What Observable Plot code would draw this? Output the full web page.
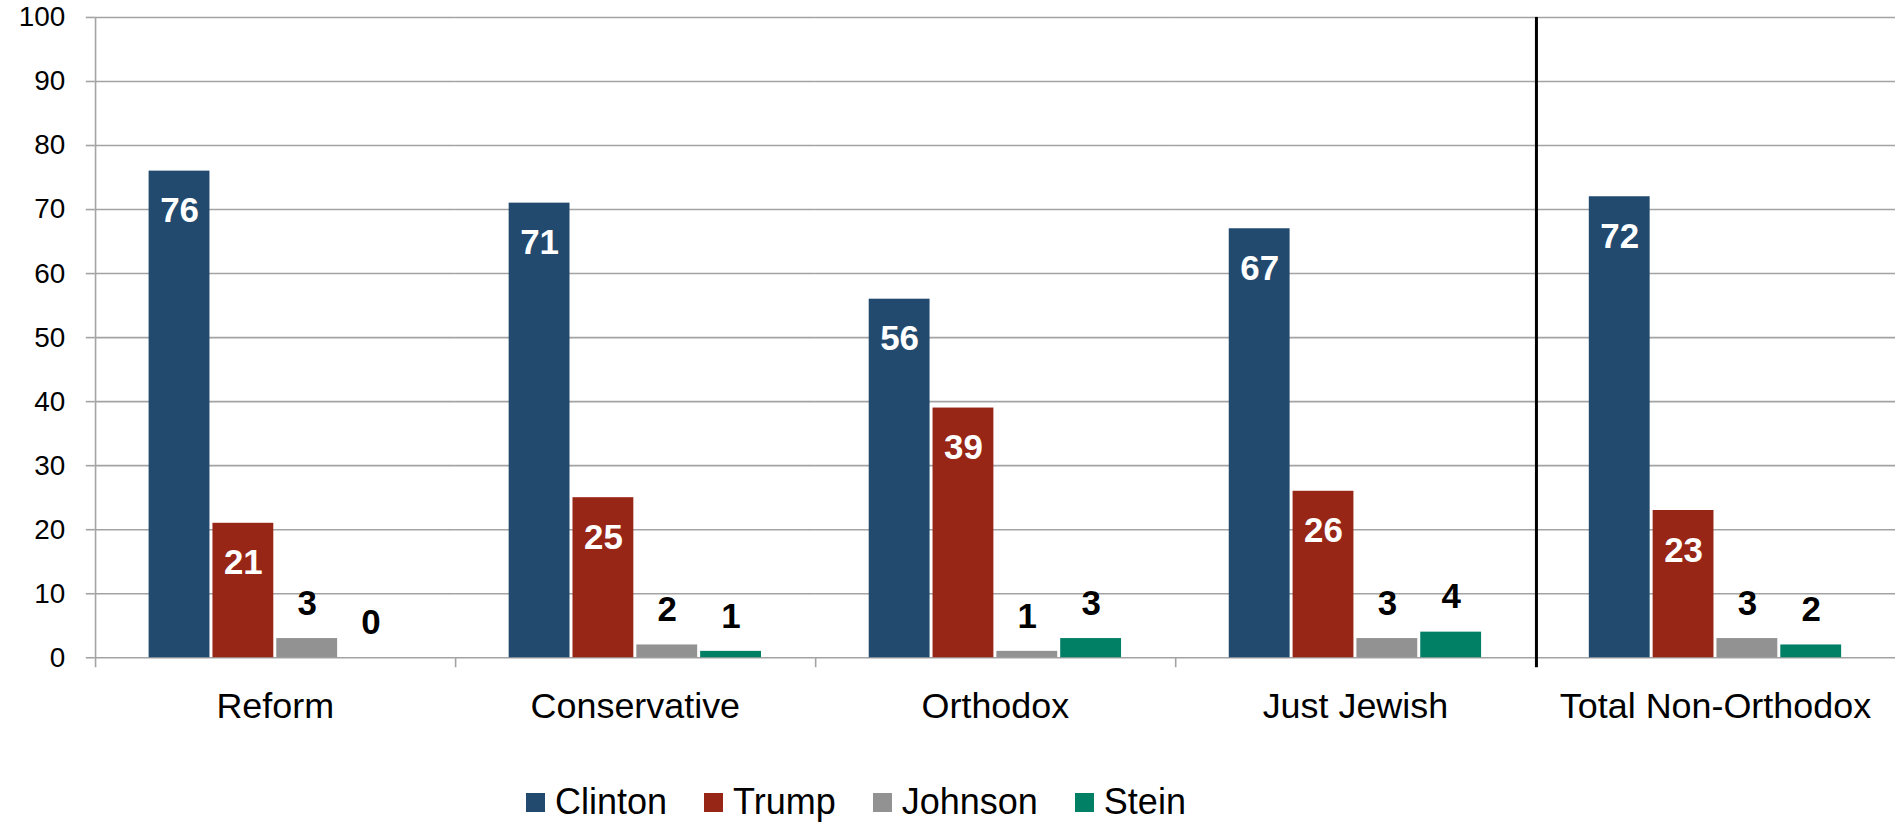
<!DOCTYPE html>
<html><head><meta charset="utf-8">
<script src="https://cdn.jsdelivr.net/npm/d3@7"></script>
<script src="https://cdn.jsdelivr.net/npm/@observablehq/plot@0.6"></script>
<style>
html,body{margin:0;padding:0;background:#fff;overflow:hidden;}
body{font-family:"Liberation Sans",Arial,sans-serif;color:#000;}
#legend{box-sizing:border-box;height:85px;padding-top:43px;padding-left:526px;display:flex;align-items:center;gap:37px;font-size:36px;line-height:36px;}
.item{display:flex;align-items:center;gap:10px;}
.sw{width:19px;height:19px;display:inline-block;}
</style></head>
<body>
<div id="chart"></div>
<div id="legend"></div>
<script>
const categories = ["Reform", "Conservative", "Orthodox", "Just Jewish", "Total Non-Orthodox"];
const candidates = ["Clinton", "Trump", "Johnson", "Stein"];
const clinton = [76, 71, 56, 67, 72];
const trump = [21, 25, 39, 26, 23];
const johnson = [3, 2, 1, 3, 3];
const stein = [0, 1, 3, 4, 2];
const colors = ["#224a6f", "#982616", "#929292", "#028066"];
const yTicks = [0, 10, 20, 30, 40, 50, 60, 70, 80, 90, 100];
const insideLabelCandidates = ["Clinton", "Trump"];
const separatorBefore = "Total Non-Orthodox";

const series = [clinton, trump, johnson, stein];
const rows = [];
categories.forEach((c, i) => candidates.forEach((k, j) => rows.push({category: c, candidate: k, value: series[j][i]})));

const W = 1900, marginLeft = 95, marginRight = 0;
const facetW = (W - marginLeft - marginRight) / categories.length;
const font = '"Liberation Sans", Arial, sans-serif';
const gridColor = "#a3a3a3";

const chart = Plot.plot({
  width: W, height: 740,
  marginLeft, marginRight, marginTop: 17, marginBottom: 81,
  style: {fontFamily: font, fontSize: "28px", color: "#000", background: "#fff", overflow: "visible"},
  fx: {domain: categories, padding: 0, label: null},
  x: {domain: candidates, paddingInner: 0.05, paddingOuter: 0.84, axis: null},
  y: {domain: [0, 100], label: null},
  color: {domain: candidates, range: colors},
  marks: [
    Plot.gridY(yTicks, {stroke: gridColor, strokeOpacity: 1, strokeWidth: 1.6}),
    Plot.axisY(yTicks, {tickSize: 9, tickPadding: 21, stroke: gridColor, strokeWidth: 1.6, fontSize: 28, label: null}),
    // left axis line
    Plot.barY([categories[0]], {fx: d => d, y1: 100, y2: 0, fill: gridColor, insetRight: facetW - 1.6, insetBottom: -10}),
    // category separator ticks
    Plot.barY(categories.filter((c, i) => i > 0 && c !== separatorBefore), {fx: d => d, y1: 0, y2: 0, fill: gridColor, insetRight: facetW - 1.6, insetBottom: -10}),
    Plot.barY(rows, {fx: "category", x: "candidate", y: "value", fill: "candidate"}),
    Plot.text(rows.filter(d => insideLabelCandidates.includes(d.candidate)), {fx: "category", x: "candidate", y: "value", text: d => String(d.value), fill: "white", fontWeight: "bold", fontSize: 35, dy: 40}),
    Plot.text(rows.filter(d => !insideLabelCandidates.includes(d.candidate)), {fx: "category", x: "candidate", y: "value", text: d => String(d.value), fill: "black", fontWeight: "bold", fontSize: 35, dy: -35}),
    // black separator before the total group
    Plot.barY([separatorBefore], {fx: d => d, y1: 100, y2: 0, fill: "black", insetRight: facetW - 3, insetBottom: -10}),
    Plot.axisFx({anchor: "bottom", tickSize: 0, tickPadding: 35, fontSize: 36, label: null})
  ]
});
document.getElementById("chart").appendChild(chart);

const legend = document.getElementById("legend");
candidates.forEach((k, i) => {
  const item = document.createElement("div");
  item.className = "item";
  const sw = document.createElement("span");
  sw.className = "sw";
  sw.style.background = colors[i];
  const t = document.createElement("span");
  t.textContent = k;
  item.appendChild(sw);
  item.appendChild(t);
  legend.appendChild(item);
});
</script>
</body></html>
